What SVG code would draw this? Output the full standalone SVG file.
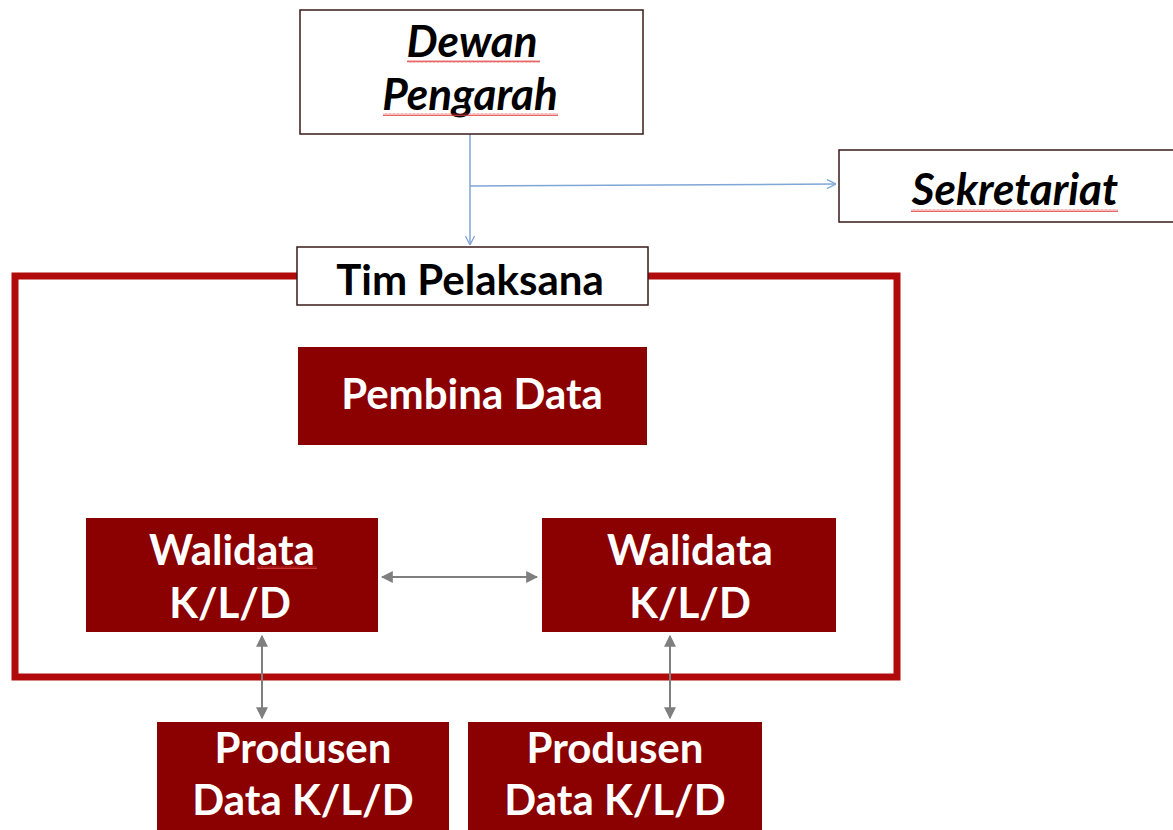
<svg xmlns="http://www.w3.org/2000/svg" width="1173" height="830" viewBox="0 0 1173 830">
<style>
.wbox{fill:#fff;stroke:#3a1a1a;stroke-width:1.5}
.dbox{fill:#8b0000}
.t{font-family:Lato,'Open Sans','Liberation Sans',sans-serif;font-weight:bold;text-anchor:middle}
.it{font-style:italic;fill:#000;font-size:44px}
.blk{fill:#000;font-size:42px}
.wt{fill:#fff;font-size:42px}
.blue{stroke:#7fa6d6;stroke-width:1.5;fill:none}
.gray{stroke:#7f7f7f;stroke-width:2;fill:none}
</style>
<defs>
<marker id="open" viewBox="0 0 10 10" refX="10" refY="5" markerWidth="10" markerHeight="10" markerUnits="userSpaceOnUse" orient="auto">
<path d="M1,0.5 L10,5 L1,9.5" fill="none" stroke="#7fa6d6" stroke-width="1.3"/>
</marker>
<marker id="tri" viewBox="0 0 10 10" refX="9" refY="5" markerWidth="12" markerHeight="12" markerUnits="userSpaceOnUse" orient="auto-start-reverse">
<path d="M0,0 L10,5 L0,10 Z" fill="#7f7f7f"/>
</marker>
<pattern id="wave" x="0" y="0" width="4" height="3" patternUnits="userSpaceOnUse">
<path d="M0,2.5 L1,0.5 L2,2.5 L3,0.5 L4,2.5" fill="none" stroke="#e04040" stroke-width="0.8"/>
</pattern>
</defs>
<rect width="1173" height="830" fill="#fff"/>

<g id="frame">
<rect x="15" y="276" width="882" height="401" fill="none" stroke="#b00a0a" stroke-width="7"/>
</g>

<g id="connectors">
<line x1="470" y1="134" x2="470" y2="245" class="blue" marker-end="url(#open)"/>
<line x1="470" y1="186" x2="836" y2="184" class="blue" marker-end="url(#open)"/>
<line x1="382" y1="577" x2="537" y2="577" class="gray" marker-start="url(#tri)" marker-end="url(#tri)"/>
<line x1="262" y1="636" x2="262" y2="718" class="gray" marker-start="url(#tri)" marker-end="url(#tri)"/>
<line x1="670" y1="636" x2="670" y2="718" class="gray" marker-start="url(#tri)" marker-end="url(#tri)"/>
</g>

<g id="dewan-pengarah">
<rect x="300" y="10" width="343" height="124" class="wbox"/>
<text x="472" y="57" class="t it">Dewan</text>
<text x="470" y="110" class="t it">Pengarah</text>
<rect x="407" y="60" width="133" height="3" fill="url(#wave)"/>
<rect x="383" y="113" width="175" height="3" fill="url(#wave)"/>
</g>

<g id="sekretariat">
<rect x="839" y="150" width="340" height="72" class="wbox"/>
<text x="1015" y="205" class="t it">Sekretariat</text>
<rect x="911" y="209" width="207" height="3" fill="url(#wave)"/>
</g>

<g id="tim-pelaksana">
<rect x="297" y="247" width="351" height="58" class="wbox"/>
<text x="470" y="295" class="t blk">Tim Pelaksana</text>
</g>

<g id="pembina-data">
<rect x="298" y="347" width="349" height="98" class="dbox"/>
<text x="472" y="409" class="t wt">Pembina Data</text>
</g>

<g id="walidata-1">
<rect x="86" y="518" width="292" height="114" class="dbox"/>
<text x="232" y="565" class="t wt">Walidata</text>
<text x="230" y="618" class="t wt">K/L/D</text>
<rect x="257" y="566" width="60" height="3" fill="url(#wave)"/>
</g>

<g id="walidata-2">
<rect x="542" y="518" width="294" height="114" class="dbox"/>
<text x="690" y="565" class="t wt">Walidata</text>
<text x="690" y="618" class="t wt">K/L/D</text>
</g>

<g id="produsen-1">
<rect x="157" y="722" width="292" height="120" class="dbox"/>
<text x="303" y="763" class="t wt">Produsen</text>
<text x="303" y="815" class="t wt">Data K/L/D</text>
</g>

<g id="produsen-2">
<rect x="468" y="722" width="294" height="120" class="dbox"/>
<text x="615" y="763" class="t wt">Produsen</text>
<text x="615" y="815" class="t wt">Data K/L/D</text>
</g>
</svg>
